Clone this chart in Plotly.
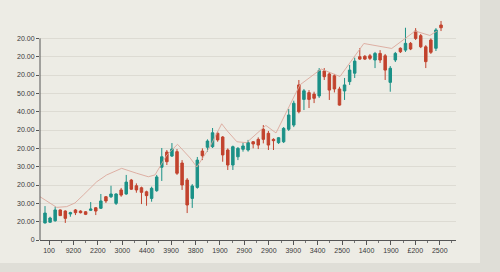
import plotly.graph_objects as go

# ---- data ----
x_labels = ["100", "9200", "2200", "3000", "4400", "3900", "3800", "1900", "2900",
            "2900", "3900", "3400", "2500", "1400", "1900", "£200", "2500"]
extra_x_label = "900"
y_tick_labels = ["0", "20.00", "30.00", "20.00", "30.00", "20.00", "20.00",
                 "40.00", "50.00", "20.00", "20.00", "20.00"]
y_tick_values = [0, 10, 20, 30, 40, 50, 60, 70, 80, 90, 100, 110]

opens = [9.3, 9.7, 10.5, 16.4, 15.8, 14.2, 16.4, 15.8, 15.4, 16.2,
         17.6, 17.3, 23.6, 23.6, 20.0, 27.3, 25.1, 32.7, 29.6, 28.5,
         26.3, 22.7, 26.9, 39.7, 48.0, 45.8, 48.2, 42.0, 32.7, 22.7,
         28.7, 48.5, 50.6, 50.9, 58.2, 56.2, 49.1, 40.9, 45.4, 49.5,
         49.1, 53.6, 54.9, 60.4, 58.2, 54.9, 53.1, 53.6, 60.4, 62.7,
         84.6, 76.7, 80.4, 79.6, 78.6, 92.2, 90.6, 89.6, 82.4, 81.3,
         86.4, 91.0, 100.0, 100.2, 100.5, 98.2, 101.8, 100.5, 86.0, 98.2,
         104.6, 103.6, 107.3, 114.0, 111.5, 105.4, 109.1, 104.6, 117.3]
highs = [18.5, 12.7, 18.2, 16.7, 16.2, 15.4, 16.9, 16.2, 15.8, 20.7,
         18.0, 25.1, 24.0, 29.6, 25.5, 28.4, 35.5, 33.3, 30.9, 29.1,
         26.9, 29.1, 35.5, 50.2, 49.1, 52.9, 49.6, 43.6, 33.8, 30.5,
         45.3, 50.0, 54.9, 61.1, 59.1, 56.7, 50.0, 51.5, 50.7, 53.1,
         54.6, 54.0, 56.0, 62.7, 59.5, 55.5, 56.2, 61.6, 71.5, 76.0,
         87.3, 82.4, 81.8, 80.9, 93.8, 93.8, 91.6, 90.6, 83.6, 88.4,
         95.5, 99.5, 104.7, 100.9, 101.5, 102.6, 103.6, 101.5, 94.9, 102.6,
         105.1, 115.8, 108.0, 115.6, 112.4, 106.3, 110.0, 115.6, 119.5]
lows = [9.0, 9.4, 10.0, 13.1, 9.3, 12.7, 13.6, 14.5, 13.6, 15.8,
        13.6, 16.9, 20.2, 22.9, 19.1, 23.6, 24.7, 27.3, 25.8, 19.6,
        18.7, 20.9, 26.3, 32.2, 40.9, 45.3, 35.5, 27.3, 14.7, 17.5,
        28.0, 43.6, 48.2, 50.2, 53.6, 42.7, 38.2, 38.2, 43.6, 48.2,
        48.2, 50.0, 49.6, 52.7, 49.1, 49.1, 52.4, 52.9, 59.5, 61.6,
        69.1, 70.9, 72.0, 74.7, 77.5, 87.3, 76.4, 80.5, 73.3, 76.4,
        84.6, 88.4, 98.2, 98.2, 98.2, 93.8, 96.6, 87.3, 80.9, 97.1,
        102.0, 102.6, 103.6, 109.1, 104.7, 93.8, 101.5, 103.1, 114.0]
closes = [14.7, 12.0, 16.4, 13.3, 11.8, 14.9, 14.9, 14.9, 14.0, 16.9,
          15.8, 21.3, 21.3, 25.1, 25.1, 24.5, 31.6, 27.7, 27.3, 26.0,
          24.2, 28.2, 34.4, 45.4, 42.7, 49.6, 36.4, 30.0, 19.1, 29.5,
          43.6, 46.0, 54.0, 58.5, 54.6, 46.4, 40.9, 50.9, 50.0, 51.3,
          53.1, 52.4, 51.8, 54.9, 51.8, 54.2, 55.8, 60.9, 68.2, 74.6,
          70.0, 81.4, 76.7, 77.3, 92.4, 89.1, 81.8, 82.4, 73.6, 84.6,
          92.7, 97.6, 98.7, 98.7, 99.1, 101.8, 98.2, 92.7, 93.7, 101.8,
          102.7, 107.3, 104.2, 110.0, 105.4, 97.3, 102.4, 114.6, 115.8]
candle_x = list(range(len(opens)))

line_x = [-0.98, 2.3, 4.27, 5.9, 7.54, 10.2, 12.15, 15.1, 18.06, 20.35, 21.67,
          23.0, 24.0, 26.1, 27.2, 28.6, 29.9, 32.5, 34.8, 35.9, 37.8, 39.7,
          43.5, 45.5, 50.2, 54.4, 58.1, 62.8, 68.3, 72.9, 75.8, 77.2]
line_y = [23.6, 17.8, 18.2, 20.2, 24.5, 31.8, 35.5, 39.1, 36.4, 34.5, 35.5,
          42.0, 46.4, 52.2, 49.1, 44.7, 39.8, 50.9, 63.4, 59.5, 53.6, 53.1,
          62.5, 58.4, 84.6, 93.3, 89.2, 107.2, 104.5, 114.0, 111.6, 114.0]

# ---- styles ----
TEAL = "#1b9187"
RED = "#c2432e"
CARD = "#edece5"
OUTSIDE = "#dfded7"
GRID = "#dddbd3"
TEXT = "#3a3a3a"

x_tick_vals = [0.79 + 4.81 * k for k in range(len(x_labels))]

fig = go.Figure()
fig.add_trace(go.Scatter(
    x=line_x, y=line_y, mode="lines",
    line=dict(color="#dba89c", width=0.9),
    hoverinfo="skip", showlegend=False, cliponaxis=False,
))
fig.add_trace(go.Candlestick(
    x=candle_x, open=opens, high=highs, low=lows, close=closes,
    increasing=dict(line=dict(color=TEAL, width=1), fillcolor=TEAL),
    decreasing=dict(line=dict(color=RED, width=1), fillcolor=RED),
    whiskerwidth=0, showlegend=False,
))

# background card and outside area
fig.add_shape(type="rect", xref="paper", yref="paper",
              x0=1.0577, x1=1.3, y0=-0.3, y1=1.2,
              fillcolor=OUTSIDE, line_width=0, layer="below")
fig.add_shape(type="rect", xref="paper", yref="paper",
              x0=-0.3, x1=1.3, y0=-0.3, y1=-0.1018,
              fillcolor=OUTSIDE, line_width=0, layer="below")
# y axis line up to top tick
fig.add_shape(type="line", xref="paper", yref="y",
              x0=0, x1=0, y0=0, y1=110,
              line=dict(color="#555555", width=1))

fig.add_annotation(x=81.6, y=0, xref="x", yref="y", text=extra_x_label,
                   showarrow=False, yshift=-10,
                   font=dict(size=7, color=TEXT, family="Liberation Sans"))

fig.update_layout(
    width=500, height=272,
    margin=dict(l=40, r=44, t=14, b=32),
    paper_bgcolor=CARD, plot_bgcolor=CARD,
    font=dict(family="Liberation Sans", size=7, color=TEXT),
    xaxis=dict(
        range=[-0.985, 80.95], rangeslider=dict(visible=False),
        tickmode="array", tickvals=x_tick_vals, ticktext=x_labels,
        showgrid=False, zeroline=False,
        showline=True, linecolor="#555555", linewidth=1,
        ticks="outside", ticklen=4, tickcolor="#555555", tickwidth=1,
        minor=dict(tick0=0.79 - 2.405, dtick=2.405, ticks="outside",
                   ticklen=2, tickcolor="#777777", showgrid=False),
        tickfont=dict(size=7, color=TEXT),
    ),
    yaxis=dict(
        range=[0, 123.3],
        tickmode="array", tickvals=y_tick_values, ticktext=y_tick_labels,
        showgrid=True, gridcolor=GRID, gridwidth=1,
        zeroline=False, showline=False,
        ticks="outside", ticklen=3, tickcolor="#555555",
        tickfont=dict(size=7, color=TEXT),
    ),
)

fig.write_html("out.html")
